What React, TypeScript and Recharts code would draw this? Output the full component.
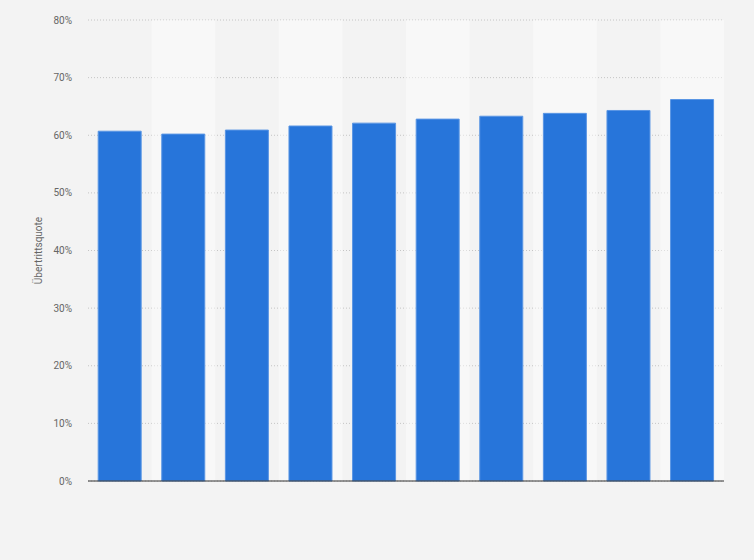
import React from "react";
import {
  BarChart,
  Bar,
  XAxis,
  YAxis,
  CartesianGrid,
  ReferenceArea,
} from "recharts";

const categories = ["1", "2", "3", "4", "5", "6", "7", "8", "9", "10"];
const rates = [60.7, 60.2, 60.9, 61.6, 62.1, 62.8, 63.3, 63.8, 64.3, 66.2];
const yTicks = [0, 10, 20, 30, 40, 50, 60, 70, 80];

const data = categories.map((c, i) => ({ category: c, rate: rates[i] }));

const App = (): JSX.Element => {
  return (
    <div
      style={{
        position: "absolute",
        left: 0,
        top: 0,
        width: 754,
        height: 560,
        background: "#f3f3f3",
        fontFamily: "Roboto, sans-serif",
      }}
    >
      <BarChart
        width={754}
        height={560}
        data={data}
        margin={{ top: 20, right: 30, left: 0, bottom: 78 }}
        barCategoryGap="16%"
      >
        {categories.map((c, i) =>
          i % 2 === 1 ? (
            <ReferenceArea
              key={c}
              x1={c}
              x2={c}
              y1={0}
              y2={80}
              fill="#ffffff"
              fillOpacity={0.45}
              stroke="none"
            />
          ) : null
        )}
        <CartesianGrid
          vertical={false}
          stroke="#c4c4c4"
          strokeDasharray="1 2"
        />
        <XAxis
          dataKey="category"
          tick={false}
          tickLine={false}
          axisLine={{ stroke: "#333333", strokeWidth: 1 }}
          height={1}
        />
        <YAxis
          width={88}
          domain={[0, 80]}
          ticks={yTicks}
          tickFormatter={(v: number) => `${v}%`}
          axisLine={false}
          tickLine={false}
          tickSize={0}
          tickMargin={16}
          tick={{ fill: "#666666", fontSize: 10, fontFamily: "Roboto, sans-serif" }}
          label={{
            value: "Übertrittsquote",
            angle: -90,
            position: "center",
            dx: -6,
            fill: "#666666",
            fontSize: 10,
            fontFamily: "Roboto, sans-serif",
          }}
        />
        <Bar
          dataKey="rate"
          fill="#2775da"
          stroke="#5a96e4"
          strokeWidth={1}
          isAnimationActive={false}
        />
      </BarChart>
    </div>
  );
};

export default App;
